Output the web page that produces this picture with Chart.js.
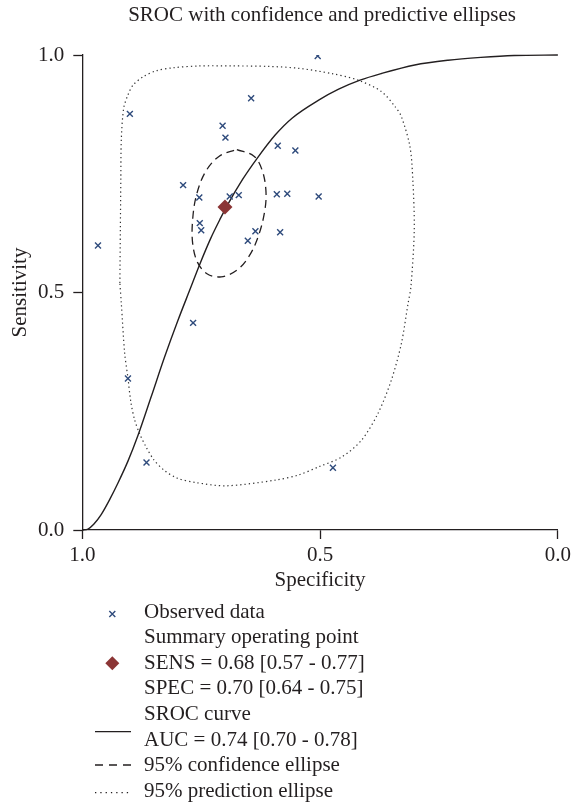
<!DOCTYPE html>
<html>
<head>
<meta charset="utf-8">
<title>SROC with confidence and predictive ellipses</title>
<script src="https://cdn.jsdelivr.net/npm/chart.js@4.4.1/dist/chart.umd.min.js"></script>
<style>
    html, body { margin: 0; padding: 0; background: #fff; }
    canvas { display: block; }
</style>
</head>
<body>
<canvas id="srocChart" width="575" height="803"></canvas>
<script>
// --- Data ---
const chartTitle = 'SROC with confidence and predictive ellipses';
const xTicks = [1.0, 0.5, 0.0];
const yTicks = [0.0, 0.5, 1.0];

// observed studies: specificity / sensitivity
const obsSpec = [0.505, 0.645, 0.900, 0.705, 0.699, 0.589, 0.552, 0.788, 0.754, 0.690, 0.671, 0.591,
                 0.569, 0.503, 0.753, 0.750, 0.636, 0.652, 0.584, 0.967, 0.767, 0.904, 0.865, 0.473];
const obsSens = [0.998, 0.909, 0.876, 0.851, 0.826, 0.809, 0.799, 0.726, 0.700, 0.702, 0.705, 0.707,
                 0.708, 0.702, 0.646, 0.631, 0.629, 0.609, 0.627, 0.599, 0.436, 0.319, 0.142, 0.131];

// summary operating point
const summarySpec = [0.70];
const summarySens = [0.68];

// SROC curve
const srocSpec = [1.000, 0.988, 0.976, 0.960, 0.942, 0.925, 0.904, 0.883, 0.855, 0.827, 0.799, 0.771,
                  0.754, 0.730, 0.709, 0.696, 0.663, 0.632, 0.594, 0.559, 0.503, 0.461, 0.416, 0.371,
                  0.301, 0.231, 0.162, 0.092, 0.000];
const srocSens = [0.000, 0.002, 0.012, 0.033, 0.065, 0.099, 0.145, 0.199, 0.281, 0.364, 0.441, 0.513,
                  0.557, 0.614, 0.657, 0.682, 0.738, 0.783, 0.832, 0.867, 0.905, 0.928, 0.947, 0.961,
                  0.979, 0.989, 0.995, 0.999, 1.000];

// 95% confidence ellipse
const confSpec = [0.675, 0.639, 0.622, 0.614, 0.616, 0.629, 0.649, 0.675, 0.708, 0.737, 0.758, 0.768,
                  0.768, 0.760, 0.741, 0.712, 0.675];
const confSens = [0.801, 0.787, 0.758, 0.716, 0.674, 0.621, 0.577, 0.547, 0.533, 0.539, 0.564, 0.604,
                  0.653, 0.705, 0.754, 0.787, 0.801];

// 95% prediction ellipse
const predSpec = [0.921, 0.920, 0.919, 0.918, 0.913, 0.904, 0.893, 0.872, 0.844, 0.810, 0.754, 0.685,
                  0.608, 0.545, 0.476, 0.420, 0.371, 0.342, 0.329, 0.311, 0.305, 0.302, 0.309, 0.315,
                  0.329, 0.350, 0.378, 0.413, 0.454, 0.503, 0.545, 0.594, 0.698, 0.762, 0.800, 0.828,
                  0.849, 0.866, 0.880, 0.890, 0.898, 0.904, 0.911, 0.918, 0.921];
const predSens = [0.520, 0.632, 0.737, 0.821, 0.888, 0.916, 0.937, 0.954, 0.967, 0.973, 0.977, 0.977,
                  0.976, 0.972, 0.961, 0.947, 0.923, 0.891, 0.870, 0.807, 0.737, 0.632, 0.512, 0.477,
                  0.393, 0.316, 0.246, 0.189, 0.154, 0.133, 0.116, 0.105, 0.093, 0.100, 0.109, 0.126,
                  0.147, 0.175, 0.204, 0.232, 0.270, 0.320, 0.373, 0.478, 0.520];

const legendRows = [
    'Observed data',
    'Summary operating point',
    'SENS = 0.68 [0.57 - 0.77]',
    'SPEC = 0.70 [0.64 - 0.75]',
    'SROC curve',
    'AUC = 0.74 [0.70 - 0.78]',
    '95% confidence ellipse',
    '95% prediction ellipse'
];

// --- Styles ---
const serif = "'Liberation Serif', 'Times New Roman', serif";
const ink = '#231f20';
const crossColor = '#2f4b7c';
const diamondColor = '#8b3535';

function toPoints(xs, ys) {
    return xs.map((x, i) => ({ x: x, y: ys[i] }));
}

// title + legend block drawn under the plot
const notesPlugin = {
    id: 'notes',
    afterDraw(chart) {
        const ctx = chart.ctx;
        const area = chart.chartArea;
        ctx.save();
        ctx.fillStyle = ink;
        ctx.font = '21px ' + serif;
        ctx.textBaseline = 'middle';
        ctx.textAlign = 'center';
        ctx.fillText(chartTitle, (area.left + area.right) / 2 + 2, 15);

        ctx.textAlign = 'left';
        const rowY = i => 612 + i * 25.6;
        legendRows.forEach((t, i) => ctx.fillText(t, 144, rowY(i)));

        // observed marker
        ctx.strokeStyle = crossColor;
        ctx.lineWidth = 1.4;
        ctx.beginPath();
        ctx.moveTo(109.3, rowY(0) - 1); ctx.lineTo(115.3, rowY(0) + 5);
        ctx.moveTo(115.3, rowY(0) - 1); ctx.lineTo(109.3, rowY(0) + 5);
        ctx.stroke();

        // summary diamond
        const dy = rowY(2);
        ctx.fillStyle = diamondColor;
        ctx.beginPath();
        ctx.moveTo(112.3, dy - 7); ctx.lineTo(119.3, dy); ctx.lineTo(112.3, dy + 7); ctx.lineTo(105.3, dy);
        ctx.closePath();
        ctx.fill();

        // line samples
        ctx.strokeStyle = ink;
        ctx.lineWidth = 1.3;
        const sample = (y, dash) => {
            ctx.setLineDash(dash);
            ctx.beginPath();
            ctx.moveTo(95, y); ctx.lineTo(131, y);
            ctx.stroke();
        };
        sample(731.7, []);
        sample(765, [8, 6]);
        sample(792.7, [1.3, 4]);
        ctx.restore();
    }
};

const tickFont = { family: serif, size: 21 };

new Chart(document.getElementById('srocChart'), {
    type: 'scatter',
    data: {
        datasets: [
            {
                label: 'Summary operating point',
                data: toPoints(summarySpec, summarySens),
                pointStyle: 'rectRot',
                pointRadius: 7.5,
                backgroundColor: diamondColor,
                borderColor: diamondColor,
                borderWidth: 0
            },
            {
                label: 'Observed data',
                data: toPoints(obsSpec, obsSens),
                pointStyle: 'crossRot',
                pointRadius: 4.2,
                borderColor: crossColor,
                borderWidth: 1.4
            },
            {
                label: 'SROC curve',
                data: toPoints(srocSpec, srocSens),
                showLine: true,
                pointRadius: 0,
                borderColor: ink,
                borderWidth: 1.4,
                cubicInterpolationMode: 'monotone',
                clip: 4
            },
            {
                label: '95% confidence ellipse',
                data: toPoints(confSpec, confSens),
                showLine: true,
                pointRadius: 0,
                borderColor: ink,
                borderWidth: 1.3,
                borderDash: [8, 5],
                tension: 0.35
            },
            {
                label: '95% prediction ellipse',
                data: toPoints(predSpec, predSens),
                showLine: true,
                pointRadius: 0,
                borderColor: '#333',
                borderWidth: 1.2,
                borderDash: [1.3, 3],
                tension: 0.3
            }
        ]
    },
    options: {
        responsive: false,
        animation: false,
        devicePixelRatio: 1,
        layout: { padding: { top: 55, right: 14.3, bottom: 203, left: 0 } },
        plugins: {
            legend: { display: false },
            tooltip: { enabled: false }
        },
        scales: {
            x: {
                type: 'linear',
                reverse: true,
                min: 0,
                max: 1,
                afterBuildTicks: scale => { scale.ticks = xTicks.map(v => ({ value: v })); },
                afterFit: scale => { scale.height = 70; },
                ticks: {
                    font: tickFont,
                    color: ink,
                    padding: 4,
                    maxRotation: 0,
                    callback: v => v.toFixed(1)
                },
                grid: {
                    drawOnChartArea: false,
                    drawTicks: true,
                    tickLength: 9,
                    tickWidth: 1.3,
                    tickColor: ink
                },
                border: { display: true, color: ink, width: 1.3 },
                title: {
                    display: true,
                    text: 'Specificity',
                    font: tickFont,
                    color: ink,
                    padding: { top: 0, bottom: 7.4 }
                }
            },
            y: {
                type: 'linear',
                min: 0,
                max: 1,
                afterBuildTicks: scale => { scale.ticks = yTicks.map(v => ({ value: v })); },
                afterFit: scale => { scale.width = 82.3; },
                ticks: {
                    font: tickFont,
                    color: ink,
                    padding: 9,
                    callback: v => v.toFixed(1)
                },
                grid: {
                    drawOnChartArea: false,
                    drawTicks: true,
                    tickLength: 9,
                    tickWidth: 1.3,
                    tickColor: ink
                },
                border: { display: true, color: ink, width: 1.3 },
                title: {
                    display: true,
                    text: 'Sensitivity',
                    font: tickFont,
                    color: ink,
                    padding: { top: 7.4, bottom: 0 }
                }
            }
        }
    },
    plugins: [notesPlugin]
});
</script>
</body>
</html>
